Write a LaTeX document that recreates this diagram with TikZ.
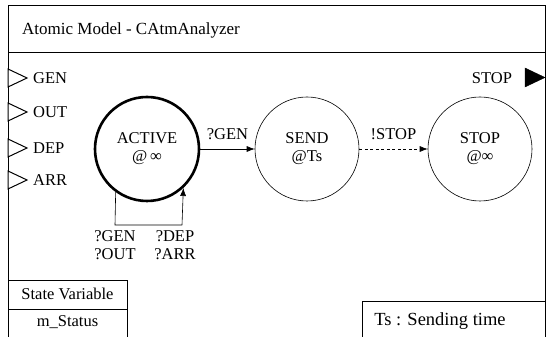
\documentclass[tikz,border=0pt]{standalone}
\usepackage{fontspec}
\setmainfont{Liberation Serif}
\usetikzlibrary{arrows.meta}
\begin{document}
\begin{tikzpicture}[x=1pt,y=1pt,
  txt/.style={font=\fontsize{16.5}{18.5}\selectfont, inner sep=0pt},
  state/.style={circle, draw, line width=0.6pt, minimum size=104pt, inner sep=0pt,
    align=center, font=\fontsize{16.5}{18}\selectfont},
  inport/.style={draw, line width=1pt, fill=white},
  trans/.style={-{Latex[length=8pt,width=6pt]}, line width=0.6pt},
  frame/.style={line width=0.8pt}]
\useasboundingbox (0,0) rectangle (547,337);

% outer model frame (open at the bottom) and title bar
\draw[frame] (8,-2) -- (8,332) -- (545,332) -- (545,-2);
\draw[frame] (8,285) -- (545,285);
\node[txt, font=\fontsize{17}{19}\selectfont, anchor=west] (title) at (22,307) {Atomic Model - CAtmAnalyzer};

% input ports
\foreach \nm/\y in {GEN/259, OUT/225, DEP/189, ARR/157}{
  \draw[inport] (8,\y+9) -- (27,\y) -- (8,\y-9) -- cycle;
  \node[txt, anchor=west] (in\nm) at (33,\y) {\nm};
}

% output port
\draw[fill=black] (525,269) -- (545,259.5) -- (525,250) -- cycle;
\node[txt] (outSTOP) at (492,259) {STOP};

% states
\node[state, line width=2.6pt, minimum size=104pt] (active) at (147,188) {ACTIVE\\@\,∞};
\node[state] (send) at (307,188) {SEND\\@Ts};
\node[state] (stop) at (480,188) {STOP\\@∞};

% transitions
\draw[trans] (active) -- (send) node[txt, midway, above=9pt] (lgen) {?GEN};
\draw[trans, dashed, dash pattern=on 3pt off 2.5pt] (send) -- (stop)
  node[txt, midway, above=9pt] (lstop) {!STOP};

% self loop on ACTIVE
\coordinate (loopL) at (115,112);
\coordinate (loopR) at (182,112);
\draw[line width=0.6pt] (active.-126) -- (loopL) -- (loopR);
\draw[trans] (loopR) -- (active.-47);
\node[txt, align=center] (lloopL) at (115,92) {?GEN\\?OUT};
\node[txt, align=center] (lloopR) at (175,92) {?DEP\\?ARR};

% state variable table
\draw[frame] (8,57) -- (127,57) -- (127,-2);
\draw[frame] (8,28) -- (127,28);
\node[txt] (svar) at (67.5,43) {State Variable};
\node[txt] (mstatus) at (67.5,15) {m\_Status};

% note box
\draw[frame] (362,-2) -- (362,36) -- (545,36);
\node[txt, font=\fontsize{18.5}{20}\selectfont] (note) at (440,16) {Ts : Sending time};
\end{tikzpicture}
\end{document}
